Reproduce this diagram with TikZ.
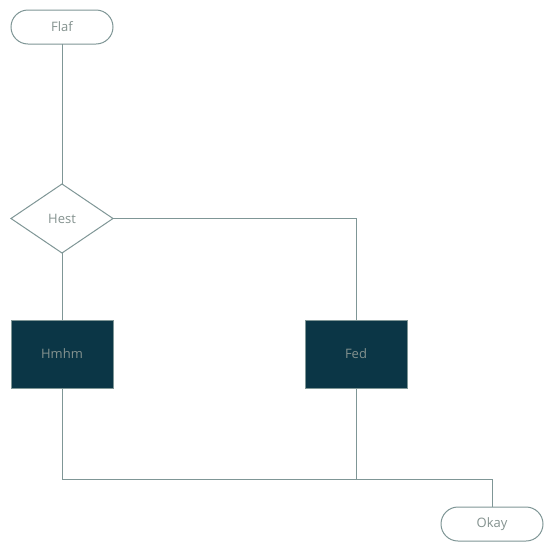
\documentclass[tikz,border=0pt]{standalone}
\usepackage{fontspec}
\setmainfont{Open Sans}
\usetikzlibrary{shapes.geometric}
\definecolor{edgec}{HTML}{7F9696}
\definecolor{txtc}{HTML}{84928F}
\definecolor{boxfill}{HTML}{0B3646}
\tikzset{
  base/.style={draw=edgec, line width=1pt, text=txtc, font=\fontsize{13}{15}\selectfont, inner sep=0pt, outer sep=0pt},
  term/.style={base, rounded corners=17pt, minimum width=102pt, minimum height=34pt, fill=white},
  decision/.style={base, diamond, aspect=1.48, minimum width=102pt, minimum height=69pt, fill=white},
  procbox/.style={base, rectangle, minimum width=102pt, minimum height=68pt, fill=boxfill},
  conn/.style={draw=edgec, line width=1pt}
}
\begin{document}
\begin{tikzpicture}[x=1pt,y=-1pt]
\useasboundingbox (0,0) rectangle (554,552);
\node[term] (flaf) at (62,27) {Flaf};
\node[decision] (hest) at (62,218.5) {Hest};
\node[procbox] (hmhm) at (62,354) {Hmhm};
\node[procbox] (fed) at (356,354) {Fed};
\node[term] (okay) at (492,524) {Okay};
\coordinate (j1) at (356,218.5);
\coordinate (j2) at (62,479);
\coordinate (j3) at (356,479);
\coordinate (j4) at (492,479);
\draw[conn] (flaf.south) -- (hest.north);
\draw[conn] (hest.east) -- (j1) -- (fed.north);
\draw[conn] (hest.south) -- (hmhm.north);
\draw[conn] (hmhm.south) -- (j2) -- (j4) -- (okay.north);
\draw[conn] (fed.south) -- (j3);
\end{tikzpicture}
\end{document}
